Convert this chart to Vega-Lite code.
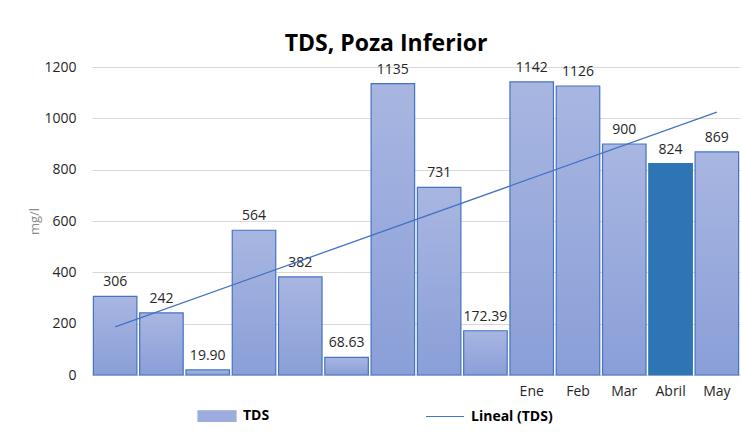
{
  "$schema": "https://vega.github.io/schema/vega-lite/v6.json",
  "width": 648,
  "height": 308,
  "autosize": {"type": "none"},
  "padding": {"left": 92, "top": 67, "right": 1, "bottom": 60},
  "background": "white",
  "title": {
    "text": "TDS, Poza Inferior",
    "font": "Open Sans",
    "fontSize": 23,
    "fontWeight": "bold",
    "color": "#000000",
    "anchor": "middle",
    "dx": -30,
    "offset": 4
  },
  "config": {
    "view": {"stroke": null},
    "font": "Open Sans"
  },
  "datasets": {
    "bars": [
      {"cat": "_1", "value": 306, "label": "306"},
      {"cat": "_2", "value": 242, "label": "242"},
      {"cat": "_3", "value": 19.9, "label": "19.90"},
      {"cat": "_4", "value": 564, "label": "564"},
      {"cat": "_5", "value": 382, "label": "382"},
      {"cat": "_6", "value": 68.63, "label": "68.63"},
      {"cat": "_7", "value": 1135, "label": "1135"},
      {"cat": "_8", "value": 731, "label": "731"},
      {"cat": "_9", "value": 172.39, "label": "172.39"},
      {"cat": "Ene", "value": 1142, "label": "1142"},
      {"cat": "Feb", "value": 1126, "label": "1126"},
      {"cat": "Mar", "value": 900, "label": "900"},
      {"cat": "Abril", "value": 824, "label": "824"},
      {"cat": "May", "value": 869, "label": "869"}
    ],
    "trend": [
      {"cat": "_1", "value": 187.5, "series": "Lineal (TDS)"},
      {"cat": "May", "value": 1024.2, "series": "Lineal (TDS)"}
    ]
  },
  "encoding": {
    "x": {
      "field": "cat",
      "type": "nominal",
      "scale": {
        "domain": ["_1", "_2", "_3", "_4", "_5", "_6", "_7", "_8", "_9", "Ene", "Feb", "Mar", "Abril", "May"],
        "paddingInner": 0.06,
        "paddingOuter": 0.03
      },
      "axis": {
        "title": null,
        "labelAngle": 0,
        "labelExpr": "indexof(datum.label, '_') === 0 ? '' : datum.label",
        "labelFontSize": 14,
        "labelColor": "#262626",
        "labelPadding": 9,
        "ticks": false,
        "domain": true,
        "domainColor": "#d9d9d9",
        "domainWidth": 1
      }
    },
    "y": {
      "field": "value",
      "type": "quantitative",
      "scale": {"domain": [0, 1200], "nice": false},
      "axis": {
        "title": "mg/l",
        "titleColor": "#8c8c8c",
        "titleFontWeight": "normal",
        "titleFontSize": 13,
        "titlePadding": 2,
        "values": [0, 200, 400, 600, 800, 1000, 1200],
        "format": "d",
        "labelFontSize": 14,
        "labelColor": "#262626",
        "labelPadding": 16,
        "ticks": false,
        "domain": false,
        "gridColor": "#d9d9d9",
        "gridWidth": 1.2
      }
    }
  },
  "layer": [
    {
      "data": {"name": "bars"},
      "mark": {"type": "bar", "strokeWidth": 1.2},
      "encoding": {
        "fill": {
          "condition": {"test": "datum.cat === 'Abril'", "value": "#2e75b6"},
          "value": {
            "gradient": "linear",
            "x1": 0, "y1": 0, "x2": 0, "y2": 1,
            "stops": [
              {"offset": 0, "color": "#a8b6e1"},
              {"offset": 1, "color": "#8a9fd8"}
            ]
          }
        },
        "stroke": {
          "condition": {"test": "datum.cat === 'Abril'", "value": "#2e75b6"},
          "value": "#4472c4"
        }
      }
    },
    {
      "data": {"name": "bars"},
      "mark": {"type": "text", "baseline": "alphabetic", "dy": -10, "fontSize": 14, "color": "#262626"},
      "encoding": {
        "text": {"field": "label"}
      }
    },
    {
      "data": {"name": "trend"},
      "mark": {"type": "line", "strokeWidth": 1.3},
      "encoding": {
        "color": {
          "field": "series",
          "type": "nominal",
          "scale": {"domain": ["TDS", "Lineal (TDS)"], "range": ["#9dadde", "#4472c4"]},
          "legend": {
            "title": null,
            "orient": "none",
            "legendX": 105,
            "legendY": 329,
            "direction": "horizontal",
            "labelFont": "Open Sans",
            "labelFontSize": 14,
            "labelFontWeight": "bold",
            "labelColor": "#000000",
            "labelOffset": 6,
            "columnPadding": 153,
            "symbolSize": 1444,
            "symbolType": "stroke",
            "encode": {
              "symbols": {
                "update": {
                  "shape": {"signal": "datum.value === 'TDS' ? 'M-1,-0.28H1V0.28H-1Z' : 'M-1,0H1'"},
                  "fill": {"signal": "datum.value === 'TDS' ? '#9dadde' : 'transparent'"},
                  "stroke": {"value": "#4472c4"},
                  "strokeWidth": {"value": 1.2},
                  "opacity": {"value": 1}
                }
              }
            }
          }
        }
      }
    }
  ]
}
